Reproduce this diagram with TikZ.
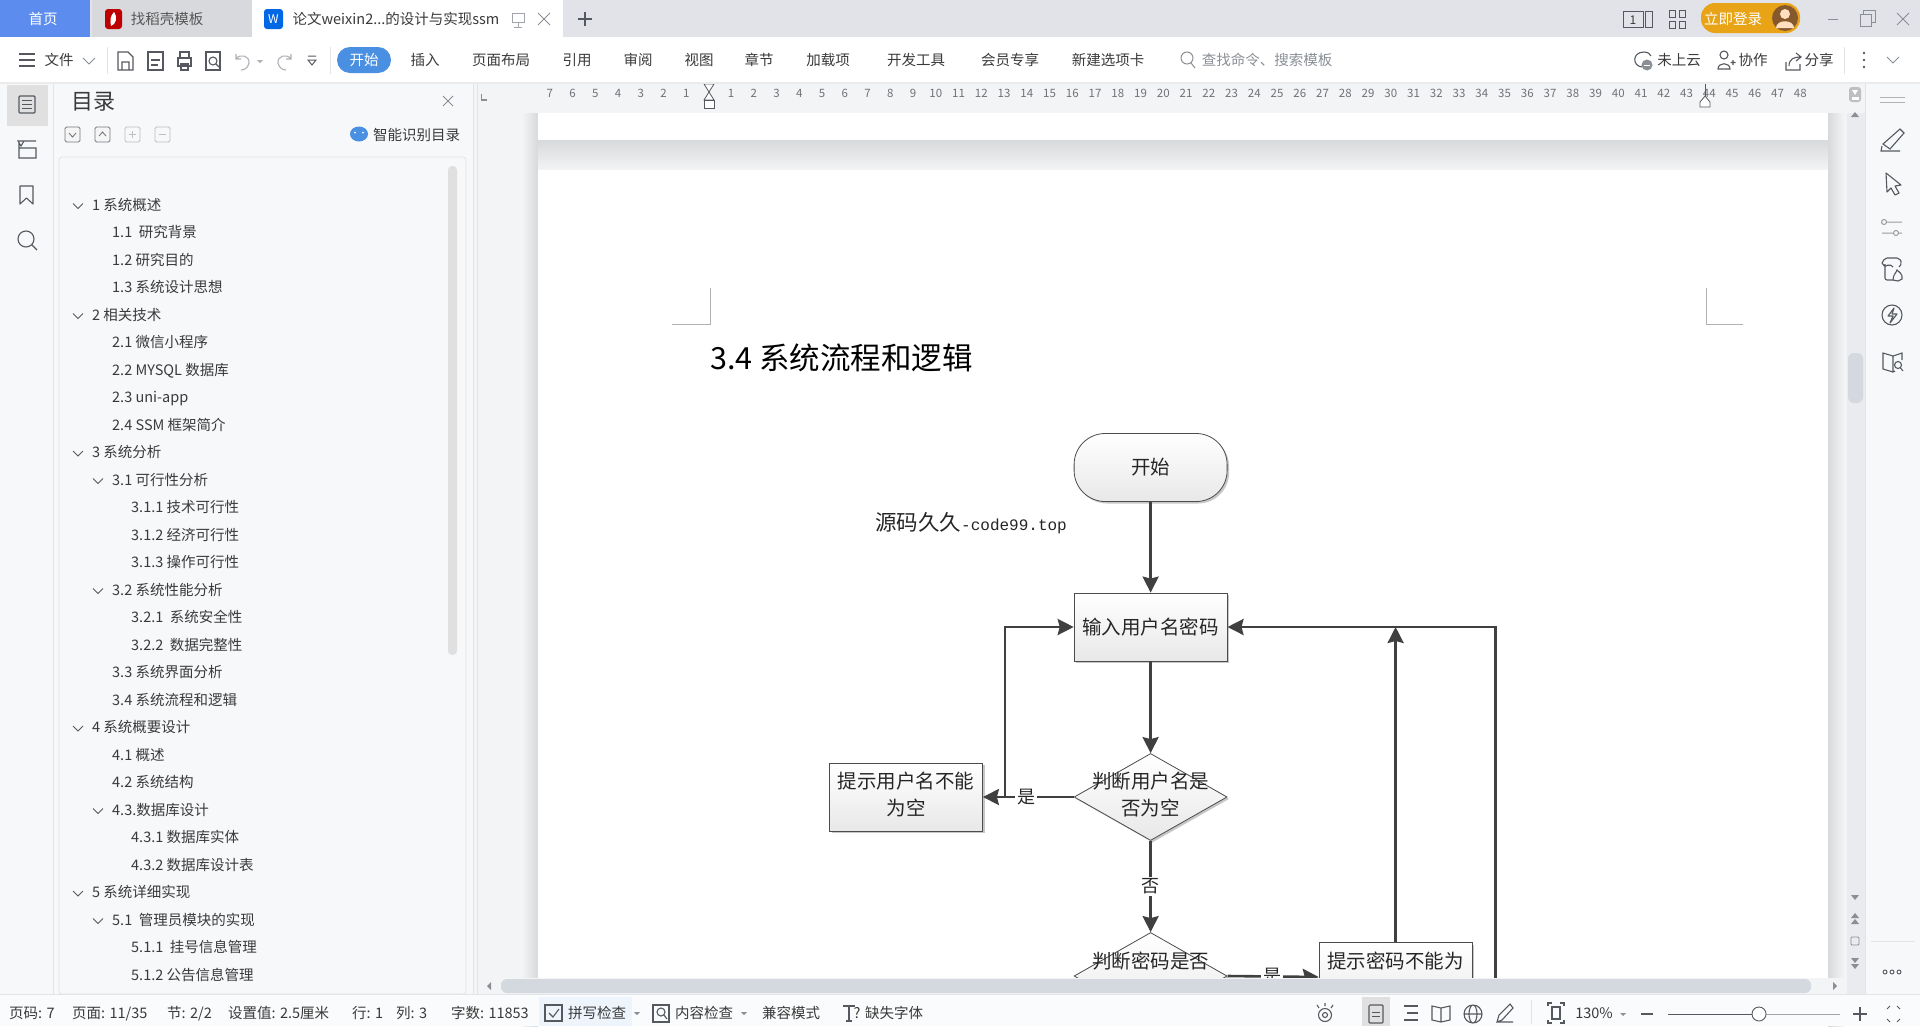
\documentclass[tikz,border=0pt]{standalone}
\usepackage{fontspec}
\setmainfont{Noto Sans CJK SC}
\newfontfamily\monofam{Liberation Mono}
\usetikzlibrary{shapes.geometric,arrows.meta,shadows,calc}
\definecolor{tabbar}{HTML}{E1E3E8}
\definecolor{homeblue}{HTML}{5C8DEE}
\definecolor{tabtwo}{HTML}{D8D9DC}
\definecolor{pillblue}{HTML}{4A90E2}
\definecolor{workbg}{HTML}{F3F4F6}
\definecolor{panelbg}{HTML}{F6F8FA}
\definecolor{rulerbg}{HTML}{E9EBEF}
\definecolor{uitxt}{HTML}{3A3A3A}
\definecolor{uigray}{HTML}{8A8F96}
\definecolor{iconc}{HTML}{55595F}
\definecolor{thumbc}{HTML}{D4D8DF}
\definecolor{sepc}{HTML}{E2E4E8}
\definecolor{flowc}{HTML}{404040}
\definecolor{gold}{HTML}{E8A317}
\definecolor{shadowc}{HTML}{D8D9DB}
\tikzset{
  ui/.style={font=\fontsize{14.5}{17}\selectfont,text=uitxt,inner sep=0pt,text height=14.5pt,text depth=3pt},
  uil/.style={ui,anchor=west},
  uig/.style={ui,text=uigray},
  rul/.style={font=\fontsize{11.5}{13}\selectfont,text=uigray!80!black,inner sep=0pt},
  ico/.style={draw=iconc,line width=1.1pt,fill=none},
  icl/.style={draw=iconc!60,line width=1pt,fill=none},
  flowtxt/.style={font=\fontsize{19.5}{27}\selectfont,text=black!85,inner sep=0pt,align=center},
  nodefill/.style={draw=black!70,line width=0.8pt,top color=white,bottom color=black!9,
    general shadow={shadow xshift=2pt,shadow yshift=-2pt,fill=black!22}},
  startbox/.style={nodefill,rectangle,rounded corners=31pt,minimum width=153pt,minimum height=68pt,flowtxt},
  procbox/.style={nodefill,rectangle,minimum width=153pt,minimum height=68pt,flowtxt},
  decide/.style={nodefill,diamond,minimum width=153pt,minimum height=87pt,inner sep=0pt,aspect=1.76},
  flow/.style={draw=flowc,line width=2.6pt,-{Stealth[length=16pt,width=16pt,inset=2pt]}},
  lab/.style={font=\fontsize{18}{20}\selectfont,text=black!85,fill=white,inner sep=2pt},
  crop/.style={draw=black!30,line width=0.7pt},
}
\begin{document}
\begin{tikzpicture}[x=1pt,y=-1pt]
\useasboundingbox (0,0) rectangle (1920,1026);
\fill[workbg] (0,0) rectangle (1920,1026);

% ---- document pages
\shade[left color=workbg,right color=shadowc] (522,113) rectangle (538,1026);
\shade[left color=shadowc,right color=workbg] (1828,113) rectangle (1844,1026);
\shade[top color=shadowc,bottom color=workbg] (538,140) rectangle (1828,170);
\fill[white] (538,113) rectangle (1828,140);
\fill[white] (538,170) rectangle (1828,1026);
\draw[crop] (672,324) -- (710,324) -- (710,288);
\draw[crop] (1743,324) -- (1706,324) -- (1706,288);
\node[anchor=west,inner sep=0pt,font=\fontsize{30.5}{32}\selectfont,text=black] (title) at (710,358) {3.4 系统流程和逻辑};

% ---- flowchart
\node[startbox] (start) at (1150.6,467.5) {开始};
\node[inner sep=0pt,anchor=west,text=black!85] (mark) at (875,523)
  {\fontsize{21.5}{22}\selectfont 源码久久\monofam\fontsize{16}{22}\selectfont -code99.top};
\node[procbox] (input) at (1150.6,627) {输入用户名密码};
\node[decide] (d1) at (1150.6,797) {};
\node[flowtxt] (d1t) at (1150.6,795) {判断用户名是\\否为空};
\node[procbox] (tipl) at (906,797) {};
\node[flowtxt] (tiplt) at (906,794.5) {提示用户名不能\\为空};
\node[decide] (d2) at (1150.6,976) {};
\node[flowtxt] (d2t) at (1150.6,961) {判断密码是否};
\node[procbox,minimum height=69pt] (tipr) at (1395.6,977) {};
\node[flowtxt] (tiprt) at (1395.6,961) {提示密码不能为};
\coordinate (jl) at (1005,797);
\coordinate (rr) at (1495.6,1000);

\draw[flow] (start) -- (input);
\draw[flow] (input) -- (d1);
\draw[flow] (d1.west) -- (tipl.east) node[lab,pos=0.52] (yes1) {是};
\draw[flow] (d1) -- (d2) node[lab,midway] (no1) {否};
\draw[flow] (jl) |- (input.west);
\draw[flow] (d2.east) -- (tipr.west) node[lab,pos=0.49] (yes2) {是};
\draw[flow] (tipr.north) -- (tipr.north |- input.east);
\draw[flow] (rr) |- (input.east);

% ---- horizontal scrollbar
\fill[workbg] (478,978) rectangle (1865,994);
\fill[thumbc,rounded corners=6pt] (501,979) rectangle (1811,993);
\fill[uigray] (491,982) -- (487,986) -- (491,990) -- cycle;
\fill[uigray] (1833,982) -- (1837,986) -- (1833,990) -- cycle;

% ---- ruler
\fill[workbg] (478,83) rectangle (1848,113);
\draw[uigray,line width=1.2pt] (481.5,94) -- (481.5,100) -- (487,100);
\foreach \n in {1,...,7} {
  \pgfmathsetmacro{\xx}{709-\n*22.75}
  \node[rul] (rl\n) at (\xx,93) {\n};
}
\foreach \n in {1,...,48} {
  \pgfmathsetmacro{\xx}{731+(\n-1)*22.75}
  \node[rul] (rr\n) at (\xx,93) {\n};
}
\draw[iconc,fill=white,line width=0.8pt] (704,84) -- (714,84) -- (709,92) -- (714,100) -- (704,100) -- (709,92) -- cycle;
\draw[iconc,fill=white,line width=0.8pt] (704,100) rectangle (714,108);
\draw[iconc,line width=0.6pt] (1705,84) -- (1705,96);
\draw[iconc,fill=white,line width=0.8pt] (1705,96) -- (1700,102) -- (1700,107) -- (1710,107) -- (1710,102) -- cycle;

% ---- right scrollbar and rail
\fill[workbg] (1844,83) rectangle (1865,113);
\fill[rulerbg] (1847,113) rectangle (1865,994);
\fill[black!25,rounded corners=3pt] (1849,87) rectangle (1861,102);
\fill[white] (1852,90) -- (1858,90) -- (1855,95) -- cycle;
\fill[white] (1851.5,97) rectangle (1858.5,100);
\fill[thumbc,rounded corners=6pt] (1848,353) rectangle (1863,403);
\fill[uigray] (1855,112) -- (1851,117) -- (1859,117) -- cycle;
\fill[uigray] (1851,895) -- (1859,895) -- (1855,900) -- cycle;
\fill[uigray] (1855,913) -- (1851,918) -- (1859,918) -- cycle;
\fill[uigray] (1855,919) -- (1851,924) -- (1859,924) -- cycle;
\draw[uigray,line width=0.8pt,rounded corners=1pt] (1851,937) rectangle (1859,945);
\fill[uigray] (1851,958) -- (1859,958) -- (1855,963) -- cycle;
\fill[uigray] (1851,964) -- (1859,964) -- (1855,969) -- cycle;
\fill[panelbg] (1865,83) rectangle (1920,994);
\draw[sepc] (1865,83) -- (1865,994);
\draw[sepc,line width=1pt] (1871,941) -- (1915,941);
\draw[black!30,line width=0.8pt] (1880,97) -- (1905,97) (1880,102) -- (1905,102);
% brush
\draw[ico] (1883,144) -- (1900,129) -- (1904,133) -- (1890,149) -- cycle;
\draw[ico] (1882,146) -- (1881,151) -- (1900,151);
% cursor
\draw[ico,line join=round] (1886,173) -- (1901,185) -- (1895,186) -- (1899,193) -- (1895,195) -- (1891,188) -- (1887,192) -- cycle;
% sliders
\draw[icl] (1884,222) circle (2.5) (1887,222) -- (1902,222) (1882,233) -- (1893,233) (1896,233) circle (2.5) (1899,233) -- (1902,233);
% shop
\draw[ico,rounded corners=2pt] (1885,264) -- (1885,280) -- (1893,280) (1882,263) -- (1885,258) -- (1899,258) -- (1902,263) -- (1899,267) (1882,263) -- (1885,267) -- (1889,264) -- (1893,267);
\draw[ico] (1893,280) .. controls (1893,274) and (1897,272) .. (1897,270) .. controls (1899,272) and (1903,274) .. (1902,279) -- (1898,281) -- cycle;
% bolt
\draw[ico] (1892,315) circle (10);
\draw[ico,line join=round] (1894,308) -- (1888,316) -- (1893,316) -- (1890,323) -- (1897,314) -- (1892,314) -- cycle;
% book
\draw[ico] (1893,356) -- (1883,353) -- (1883,369) -- (1893,372) -- (1895,371) (1893,356) -- (1902,353) -- (1902,360) (1893,356) -- (1893,372);
\draw[ico] (1898,365) circle (3.5) (1900.5,368) -- (1903,371);
% three dots
\draw[iconc,line width=0.9pt] (1885,972) circle (2) (1892,972) circle (2) (1899,972) circle (2);

% ---- tab bar
\fill[tabbar] (0,0) rectangle (1920,37);
\fill[homeblue] (0,0) rectangle (90,37);
\fill[tabtwo] (92,0) rectangle (252,37);
\fill[white] (252,0) rectangle (563,37);
\node[ui,text=white] (t1) at (43,19) {首页};
\fill[red!75!black,rounded corners=3pt] (105,9) rectangle (122,29);
\fill[white] (114,12) .. controls (118,18) and (116,24) .. (111,26) .. controls (110,21) and (110,16) .. (114,12);
\node[ui,text=uitxt!85] (t2) at (167,19) {找稻壳模板};
\fill[blue!55!cyan!90!black,rounded corners=3pt] (264,9) rectangle (283,29);
\node[inner sep=0pt,text=white,font=\fontsize{12}{13}\selectfont] (t3i) at (273.5,19) {W};
\node[ui] (t3) at (396,19) {论文weixin2...的设计与实现ssm};
\draw[uigray!80,line width=0.9pt] (512,13) rectangle (524,22) (518,22) -- (518,27) (514,27) -- (522,27);
\draw[uigray,line width=1pt] (538,13) -- (550,25) (550,13) -- (538,25);
\draw[iconc,line width=1.8pt] (578,19) -- (592,19) (585,12) -- (585,26);
% window controls
\draw[iconc,line width=0.9pt] (1623,11) rectangle (1643,27);
\draw[iconc,line width=0.9pt] (1645,11) rectangle (1652,27);
\node[ui,font=\fontsize{12}{13}\selectfont] (w1) at (1633,19) {1};
\draw[iconc,line width=0.9pt] (1669,10) rectangle (1675,17) (1679,10) rectangle (1685,17) (1669,21) rectangle (1675,28) (1679,21) rectangle (1685,28);
\fill[gold,rounded corners=14pt] (1701,3) rectangle (1800,33);
\node[ui,text=white] (login) at (1733,19) {立即登录};
\fill[brown!70!black] (1785,18) circle (13);
\fill[orange!25!white] (1785,14) circle (5) (1776,28) .. controls (1776,19) and (1794,19) .. (1794,28) -- cycle;
\draw[sepc] (1810,5) -- (1810,32);
\draw[uigray,line width=1pt] (1828,19) -- (1838,19);
\draw[uigray,line width=1pt] (1860,14) rectangle (1871,26) (1863,14) -- (1863,10) -- (1875,10) -- (1875,22) -- (1871,22);
\draw[uigray,line width=1pt] (1897,13) -- (1909,25) (1909,13) -- (1897,25);

% ---- tool bar
\fill[white] (0,37) rectangle (1920,83);
\draw[black!8,line width=1.5pt] (0,83) -- (1920,83);
\draw[iconc,line width=1.1pt] (19,54) -- (35,54) (19,60) -- (35,60) (19,66) -- (35,66);
\node[ui] (m0) at (59,60) {文件};
\draw[uigray,line width=0.9pt] (83,58) -- (89,64) -- (95,58);
\draw[sepc] (107,47) -- (107,74) (330,47) -- (330,74);
\draw[ico] (118,52) -- (128,52) -- (133,57) -- (133,70) -- (118,70) -- cycle (122,70) -- (122,62) -- (129,62) -- (129,70);
\draw[ico] (148,52) rectangle (163,70) (151,60) -- (160,60) (151,65) -- (158,65);
\draw[ico] (178,58) rectangle (191,66) (180,58) -- (180,52) -- (189,52) -- (189,58) (181,64) rectangle (188,70);
\draw[ico] (206,52) -- (220,52) -- (220,70) -- (206,70) -- cycle;
\draw[ico] (213,61) circle (4) (216,64) -- (219,67);
\draw[uigray!70,line width=1.1pt] (236,54) -- (236,59) -- (241,59) (236,59) .. controls (240,53) and (250,56) .. (249,63) .. controls (248,68) and (244,70) .. (241,70);
\fill[uigray!70] (257,60) -- (263,60) -- (260,63) -- cycle;
\draw[uigray!70,line width=1.1pt] (291,54) -- (291,59) -- (286,59) (291,59) .. controls (287,53) and (277,56) .. (278,63) .. controls (279,68) and (283,70) .. (286,70);
\draw[iconc,line width=1pt] (308,56) -- (316,56) (308,60) -- (312,65) -- (316,60) -- cycle;
\fill[pillblue,rounded corners=13pt] (337,47) rectangle (391,73);
\node[ui,text=white] (m1) at (364,60) {开始};
\foreach \xx/\tt [count=\k] in {425/插入,501/页面布局,577/引用,638/审阅,699/视图,759/章节,828/加载项,916/开发工具,1010/会员专享,1108/新建选项卡} {
  \node[ui] (tb\k) at (\xx,60) {\tt};
}
\draw[uigray,line width=1pt] (1187,58) circle (6) (1191,63) -- (1195,68);
\node[uig] (srch) at (1267,60) {查找命令、搜索模板};
% right of tool bar
\draw[ico] (1642,67) .. controls (1632,66) and (1632,52) .. (1644,52) .. controls (1648,52) and (1650,54) .. (1651,56);
\fill[uigray] (1647,65) circle (5.5);
\fill[white] (1644,64.5) rectangle (1650,66);
\node[ui] (tr1) at (1679,60) {未上云};
\draw[ico] (1724,55) circle (4) (1718,69) .. controls (1718,62) and (1730,62) .. (1730,69) -- cycle (1733,60) -- (1733,65) (1730.5,62.5) -- (1735.5,62.5);
\node[ui] (tr2) at (1753,60) {协作};
\draw[ico] (1786,62) -- (1786,70) -- (1800,70) -- (1800,64) (1789,66) .. controls (1789,59) and (1794,57) .. (1800,57) (1796,53) -- (1801,57) -- (1796,61);
\node[ui] (tr3) at (1819,60) {分享};
\draw[sepc] (1844,47) -- (1844,74);
\fill[iconc] (1864,53) circle (1.4) (1864,60) circle (1.4) (1864,67) circle (1.4);
\draw[uigray,line width=0.9pt] (1887,57) -- (1893,63) -- (1899,57);

% ---- left rail
\fill[panelbg] (0,84) rectangle (473,994);
\draw[sepc] (53,84) -- (53,994) (473,84) -- (473,994) (477,84) -- (477,994);
\fill[black!12] (7,85) rectangle (48,126);
\draw[ico,rounded corners=1pt] (19,96) rectangle (35,113);
\draw[iconc,line width=0.8pt] (22,100) -- (32,100) (22,104) -- (32,104) (22,108) -- (32,108);
\draw[ico] (19,148) rectangle (36,158) (19,148) -- (19,142) (24,141) -- (36,141) (18,141) -- (24,141) -- (21,146) -- cycle;
\draw[ico,line join=round] (20,186) -- (33,186) -- (33,204) -- (26.5,198) -- (20,204) -- cycle;
\draw[ico] (26,239) circle (8) (32,245) -- (37,250);

% ---- contents panel
\node[anchor=west,inner sep=0pt,font=\fontsize{22}{24}\selectfont,text=uitxt] (ct) at (71,102) {目录};
\draw[uigray,line width=0.9pt] (443,96) -- (453,106) (453,96) -- (443,106);
\draw[iconc!80,line width=0.9pt,rounded corners=1.5pt,fill=black!4] (65,127) rectangle (80,142);
\draw[iconc!80,line width=0.9pt] (69,133) -- (72.5,137) -- (76,133);
\draw[iconc!80,line width=0.9pt,rounded corners=1.5pt,fill=black!4] (95,127) rectangle (110,142);
\draw[iconc!80,line width=0.9pt] (99,136) -- (102.5,132) -- (106,136);
\draw[black!25,line width=0.9pt,rounded corners=1.5pt] (125,127) rectangle (140,142) (155,127) rectangle (170,142);
\draw[black!25,line width=0.9pt] (129,134.5) -- (136,134.5) (132.5,131) -- (132.5,138) (159,134.5) -- (166,134.5);
\fill[pillblue] (359,134) ellipse (9 and 7.5);
\fill[white] (355,132.5) circle (1) (363,132.5) circle (1);
\node[uil] (smart) at (373,135) {智能识别目录};
\draw[sepc,line width=0.8pt,rounded corners=3pt] (59,157) rectangle (466,994);
\fill[black!12,rounded corners=4pt] (448,166) rectangle (457,655);
\foreach \tx/\cx/\tl [count=\n] in {
  92/78/1 系统概述,
  112/0/1.1~~研究背景,
  112/0/1.2 研究目的,
  112/0/1.3 系统设计思想,
  92/78/2 相关技术,
  112/0/2.1 微信小程序,
  112/0/2.2 MYSQL 数据库,
  112/0/2.3 uni-app,
  112/0/2.4 SSM 框架简介,
  92/78/3 系统分析,
  112/98/3.1 可行性分析,
  131/0/3.1.1 技术可行性,
  131/0/3.1.2 经济可行性,
  131/0/3.1.3 操作可行性,
  112/98/3.2 系统性能分析,
  131/0/3.2.1~~系统安全性,
  131/0/3.2.2~~数据完整性,
  112/0/3.3 系统界面分析,
  112/0/3.4 系统流程和逻辑,
  92/78/4 系统概要设计,
  112/0/4.1 概述,
  112/0/4.2 系统结构,
  112/98/4.3.数据库设计,
  131/0/4.3.1 数据库实体,
  131/0/4.3.2 数据库设计表,
  92/78/5 系统详细实现,
  112/98/5.1~~管理员模块的实现,
  131/0/5.1.1~~挂号信息管理,
  131/0/5.1.2 公告信息管理} {
  \pgfmathsetmacro{\yy}{204.5+(\n-1)*27.5}
  \node[uil] (toc\n) at (\tx,\yy) {\tl};
  \ifnum\cx>0
    \draw[iconc,line width=0.9pt] (\cx-5,\yy-1) -- (\cx,\yy+4) -- (\cx+5,\yy-1);
  \fi
}

% ---- status bar
\fill[panelbg!60!white] (0,994) rectangle (1920,1026);
\draw[sepc] (0,994) -- (1920,994);
\node[uil] (s1) at (9,1013) {页码: 7};
\node[uil] (s2) at (72,1013) {页面: 11/35};
\node[uil] (s3) at (167,1013) {节: 2/2};
\node[uil] (s4) at (228,1013) {设置值: 2.5厘米};
\node[uil] (s5) at (352,1013) {行: 1};
\node[uil] (s6) at (396,1013) {列: 3};
\node[uil] (s7) at (451,1013) {字数: 11853};
\fill[pillblue!10] (539,997) rectangle (632,1026);
\draw[ico] (545,1005) rectangle (562,1021);
\draw[ico] (549,1013) -- (553,1017) -- (559,1009);
\node[uil] (s8) at (568,1013) {拼写检查};
\fill[uigray] (634,1012) -- (640,1012) -- (637,1015) -- cycle;
\draw[ico] (653,1005) rectangle (669,1022);
\draw[ico] (661,1012) circle (4) (664,1015) -- (667,1019);
\node[uil] (s9) at (675,1013) {内容检查};
\fill[uigray] (741,1012) -- (747,1012) -- (744,1015) -- cycle;
\node[uil] (s10) at (762,1013) {兼容模式};
\draw[ico] (843,1006) -- (855,1006) (849,1006) -- (849,1021) (846,1021) -- (852,1021);
\node[ui] (s11) at (857,1013) {?};
\node[uil] (s12) at (865,1013) {缺失字体};
% view controls
\draw[ico] (1325,1015) circle (6.5) (1325,1015) circle (2.5) (1317,1005) -- (1319,1008) (1325,1003) -- (1325,1006) (1333,1005) -- (1331,1008);
\fill[black!12] (1362,997) rectangle (1390,1026);
\draw[ico,rounded corners=1pt] (1369,1005) rectangle (1383,1023);
\draw[iconc,line width=0.9pt] (1372,1012) -- (1380,1012) (1372,1016) -- (1380,1016);
\draw[ico] (1404,1006) -- (1418,1006) (1407,1013) -- (1418,1013) (1404,1020) -- (1418,1020);
\draw[ico] (1432,1006) -- (1441,1008) -- (1450,1006) -- (1450,1020) -- (1441,1022) -- (1432,1020) -- cycle (1441,1008) -- (1441,1022);
\draw[ico] (1473,1014) circle (9) (1473,1014) ellipse (4 and 9) (1464,1014) -- (1482,1014);
\draw[ico] (1497,1022) -- (1513,1022) (1497,1022) -- (1499,1015) -- (1510,1004) -- (1513,1008) -- (1502,1020) -- cycle;
\draw[sepc] (1531,1000) -- (1531,1024);
\draw[ico] (1548,1006) -- (1548,1003) -- (1552,1003) (1560,1003) -- (1564,1003) -- (1564,1006) (1548,1020) -- (1548,1023) -- (1552,1023) (1560,1023) -- (1564,1023) -- (1564,1020) (1552,1007) rectangle (1560,1019);
\node[ui] (zoomp) at (1594,1013) {130\%};
\fill[uigray] (1620,1013) -- (1626,1013) -- (1623,1016) -- cycle;
\draw[iconc,line width=2pt] (1641,1014) -- (1653,1014);
\draw[black!35,line width=0.8pt] (1759,1014) -- (1840,1014);
\draw[iconc,line width=1pt] (1668,1014) -- (1759,1014);
\draw[iconc,line width=0.9pt,fill=white] (1759,1014) ellipse (7 and 7);
\draw[iconc,line width=2pt] (1853,1014) -- (1867,1014) (1860,1007) -- (1860,1021);
\draw[iconc,line width=1pt] (1887,1009) -- (1890,1006) (1897,1006) -- (1900,1009) (1887,1019) -- (1890,1022) (1897,1022) -- (1900,1019);
\end{tikzpicture}
\end{document}
